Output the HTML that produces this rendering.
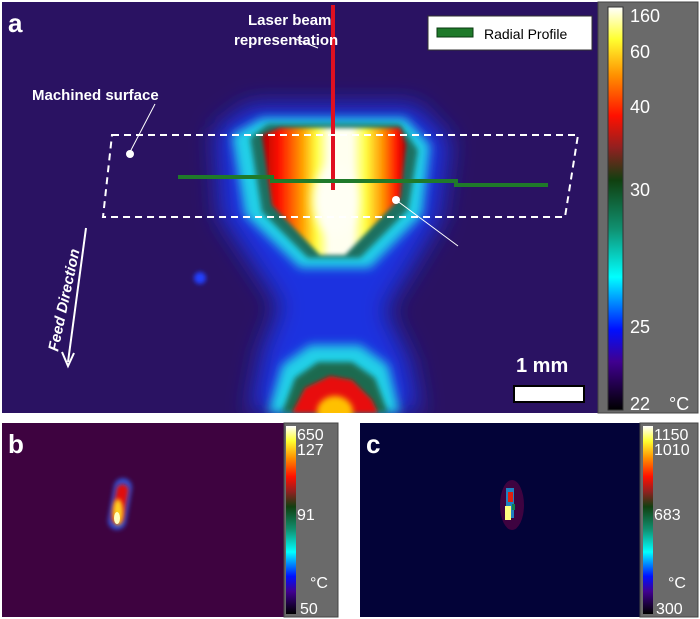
<!DOCTYPE html>
<html><head><meta charset="utf-8"><style>
body{margin:0;background:#fff;width:700px;height:619px;overflow:hidden;font-family:"Liberation Sans",sans-serif}
svg{position:absolute;left:0;top:0}
</style></head><body>
<svg width="700" height="619" viewBox="0 0 700 619">
<defs>
<linearGradient id="cmap" x1="0" y1="0" x2="0" y2="1">
<stop offset="0" stop-color="#ffffff"/><stop offset="0.08" stop-color="#ffff30"/><stop offset="0.17" stop-color="#ff9000"/><stop offset="0.27" stop-color="#ff1000"/><stop offset="0.35" stop-color="#902020"/><stop offset="0.43" stop-color="#104010"/><stop offset="0.55" stop-color="#109070"/><stop offset="0.67" stop-color="#00ffff"/><stop offset="0.8" stop-color="#0010ff"/><stop offset="0.88" stop-color="#400090"/><stop offset="1" stop-color="#000000"/>
</linearGradient>
<linearGradient id="hot" x1="0" y1="0" x2="1" y2="0">
<stop offset="0" stop-color="#b00000"/><stop offset="0.12" stop-color="#ff1000"/><stop offset="0.28" stop-color="#ffa000"/><stop offset="0.38" stop-color="#ffff40"/><stop offset="0.47" stop-color="#fffff0"/><stop offset="0.62" stop-color="#fffff0"/><stop offset="0.72" stop-color="#ffff40"/><stop offset="0.84" stop-color="#ff9000"/><stop offset="0.94" stop-color="#ff1000"/><stop offset="1" stop-color="#b00000"/>
</linearGradient>
<filter id="b12" x="-50%" y="-50%" width="200%" height="200%"><feGaussianBlur stdDeviation="12"/></filter>
<filter id="b5" x="-50%" y="-50%" width="200%" height="200%"><feGaussianBlur stdDeviation="5"/></filter>
<filter id="b3" x="-50%" y="-50%" width="200%" height="200%"><feGaussianBlur stdDeviation="3"/></filter>
<filter id="b2" x="-50%" y="-50%" width="200%" height="200%"><feGaussianBlur stdDeviation="2"/></filter>
<clipPath id="ca"><rect x="2" y="2" width="596" height="411"/></clipPath>
</defs>

<!-- Panel a -->
<g clip-path="url(#ca)">
<rect x="2" y="2" width="596" height="411" fill="#2a1262"/>
<path d="M215 130 L250 105 L415 105 L450 140 L440 220 L410 270 L385 310 L410 360 L420 413 L250 413 L262 350 L280 305 L250 260 L220 215 Z" fill="#1a30e0" filter="url(#b12)"/>
<path d="M232 135 L262 118 L405 118 L430 145 L422 215 L370 268 L300 268 L245 215 Z" fill="#20d0e8" filter="url(#b5)"/>
<path d="M250 138 L268 124 L400 124 L418 150 L408 210 L360 258 L308 258 L262 212 Z" fill="#1a7060" filter="url(#b3)"/>
<path d="M262 135 L280 128 L400 128 L406 145 L400 198 L345 255 L320 255 L272 205 Z" fill="url(#hot)" filter="url(#b2)"/>
<ellipse cx="335" cy="200" rx="22" ry="35" fill="#fffff4" filter="url(#b5)"/>
<path d="M268 413 L282 365 L310 345 L360 345 L388 365 L400 413 Z" fill="#20d0e8" filter="url(#b5)"/>
<path d="M282 413 L295 378 L318 362 L352 362 L375 378 L388 413 Z" fill="#1a6a50" filter="url(#b3)"/>
<path d="M292 413 L305 388 L330 376 L352 380 L372 400 L378 413 Z" fill="#e81010" filter="url(#b2)"/>
<ellipse cx="335" cy="412" rx="18" ry="16" fill="#ffc000" filter="url(#b3)"/>
<ellipse cx="200" cy="278" rx="6" ry="6" fill="#2040ff" filter="url(#b2)"/>
</g>
<line x1="333" y1="5" x2="333" y2="190" stroke="#e01020" stroke-width="4"/>
<polyline points="178,177 272,177 272,181 456,181 456,185 548,185" fill="none" stroke="#1f7a2a" stroke-width="4"/>
<polygon points="112,135 578,135 565,217 103,217" fill="none" stroke="#fff" stroke-width="2" stroke-dasharray="7,5"/>
<text x="8" y="32" font-size="26" font-weight="bold" fill="#fff">a</text>
<text x="248" y="25" font-size="15" font-weight="bold" fill="#fff">Laser beam</text>
<text x="234" y="45" font-size="15" font-weight="bold" fill="#fff">representation</text>
<line x1="293" y1="38" x2="318" y2="48" stroke="#fff" stroke-width="1"/>
<text x="32" y="100" font-size="15" font-weight="bold" fill="#fff">Machined surface</text>
<line x1="155" y1="104" x2="130" y2="152" stroke="#fff" stroke-width="1"/>
<circle cx="130" cy="154" r="4" fill="#fff"/>
<circle cx="396" cy="200" r="4" fill="#fff"/>
<line x1="396" y1="200" x2="458" y2="246" stroke="#fff" stroke-width="1"/>
<g>
<rect x="428" y="16" width="164" height="34" fill="#fff" stroke="#333"/>
<rect x="437" y="28" width="36" height="9" fill="#1f7a2a" stroke="#0a3a10"/>
<text x="484" y="39" font-size="14" fill="#000">Radial Profile</text>
</g>
<text transform="translate(58,352) rotate(-78)" font-size="15" font-weight="bold" font-style="italic" fill="#fff">Feed Direction</text>
<line x1="86" y1="228" x2="68" y2="362" stroke="#fff" stroke-width="2"/>
<path d="M62 352 L68 366 L74 353" fill="none" stroke="#fff" stroke-width="2"/>
<text x="516" y="372" font-size="20" font-weight="bold" fill="#fff">1 mm</text>
<rect x="514" y="386" width="70" height="16" fill="#fff" stroke="#000" stroke-width="2"/>
<g>
<rect x="598" y="2" width="100" height="411" fill="#6a6a6a" stroke="#444"/>
<rect x="608" y="7" width="15" height="403" fill="url(#cmap)" stroke="#333"/>
<g font-size="18" fill="#fff">
<text x="630" y="22">160</text><text x="630" y="58">60</text><text x="630" y="113">40</text><text x="630" y="196">30</text><text x="630" y="333">25</text><text x="630" y="410">22</text><text x="669" y="410">°C</text>
</g></g>

<!-- Panel b -->
<g>
<rect x="2" y="423" width="282" height="194" fill="#3e0340"/>
<rect x="111" y="478" width="18" height="52" rx="9" fill="#3050d0" transform="rotate(10 120 504)" filter="url(#b2)"/>
<rect x="114" y="484" width="12" height="40" rx="6" fill="#e01010" transform="rotate(10 120 504)" filter="url(#b2)"/>
<ellipse cx="118" cy="512" rx="5" ry="13" fill="#ffd020" filter="url(#b2)"/>
<ellipse cx="117" cy="518" rx="3" ry="6" fill="#ffffc0"/>
<text x="8" y="453" font-size="26" font-weight="bold" fill="#fff">b</text>
<rect x="284" y="423" width="54" height="194" fill="#6a6a6a" stroke="#444"/>
<rect x="286" y="426" width="10" height="188" fill="url(#cmap)"/>
<g font-size="16" fill="#fff"><text x="297" y="440">650</text><text x="297" y="455">127</text><text x="297" y="520">91</text><text x="310" y="588">°C</text><text x="300" y="614">50</text></g>
</g>

<!-- Panel c -->
<g>
<rect x="360" y="423" width="280" height="194" fill="#030338"/>
<ellipse cx="512" cy="505" rx="12" ry="25" fill="#3e0340"/>
<rect x="506" y="488" width="8" height="30" fill="#2080c0"/>
<rect x="508" y="492" width="5" height="10" fill="#e02010"/>
<rect x="505" y="506" width="6" height="14" fill="#ffff80"/>
<rect x="512" y="504" width="3" height="6" fill="#108050"/>
<text x="366" y="453" font-size="26" font-weight="bold" fill="#fff">c</text>
<rect x="640" y="423" width="58" height="194" fill="#6a6a6a" stroke="#444"/>
<rect x="643" y="426" width="10" height="188" fill="url(#cmap)"/>
<g font-size="16" fill="#fff"><text x="654" y="440">1150</text><text x="654" y="455">1010</text><text x="654" y="520">683</text><text x="668" y="588">°C</text><text x="656" y="614">300</text></g>
</g>
</svg>
</body></html>
